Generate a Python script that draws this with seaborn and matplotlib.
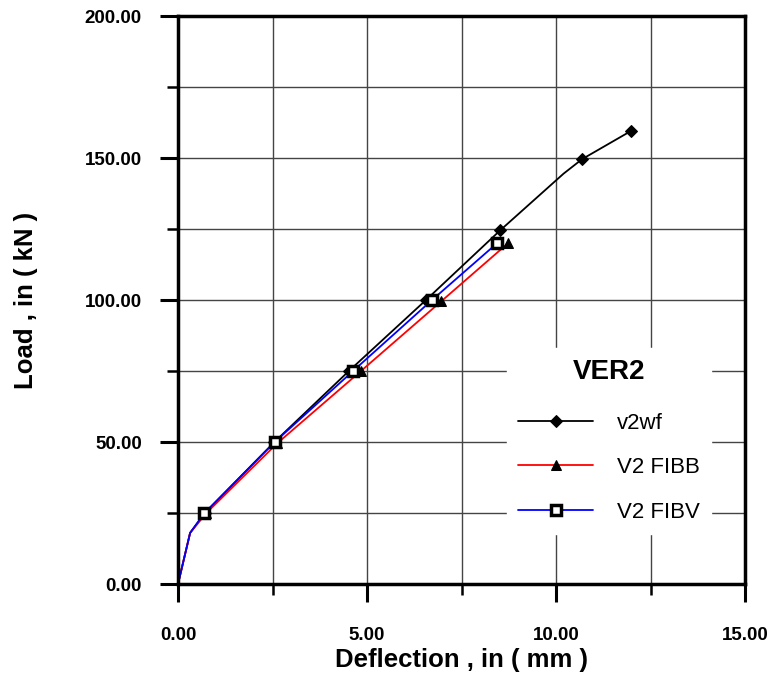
import numpy as np
import pandas as pd
import matplotlib
matplotlib.use("Agg")
import matplotlib.pyplot as plt
import seaborn as sns
from matplotlib.ticker import MultipleLocator, FormatStrFormatter

# Load-deflection data (first points are unmarked)
v2wf_defl = [0.0, 0.32, 0.71, 2.55, 4.52, 6.56, 8.52, 10.2, 10.69, 11.98]
v2wf_load = [0.0, 18.0, 25.0, 50.0, 75.0, 100.0, 124.5, 144.5, 149.6, 159.5]
v2wf_marks = [2, 3, 4, 5, 6, 8, 9]

fibb_defl = [0.0, 0.32, 0.75, 2.62, 4.84, 6.96, 8.73]
fibb_load = [0.0, 18.0, 25.0, 49.5, 75.0, 99.5, 120.0]
fibb_marks = [2, 3, 4, 5, 6]

fibv_defl = [0.0, 0.32, 0.70, 2.56, 4.63, 6.72, 8.44]
fibv_load = [0.0, 18.0, 25.0, 50.0, 75.0, 100.0, 120.0]
fibv_marks = [2, 3, 4, 5, 6]

sns.set_style("white")
plt.rcParams['font.family'] = ['Liberation Sans', 'DejaVu Sans']
plt.rcParams['text.color'] = 'black'
plt.rcParams['axes.labelcolor'] = 'black'
plt.rcParams['xtick.color'] = 'black'
plt.rcParams['ytick.color'] = 'black'

fig = plt.figure(figsize=(7.73, 6.79), dpi=100)
ax = fig.add_axes([0.2303, 0.1399, 0.7335, 0.8365])

sns.lineplot(x=v2wf_defl, y=v2wf_load, sort=False, color='black', lw=1.3,
             marker='D', markersize=6.5, markevery=v2wf_marks, mfc='black', mec='black',
             label='v2wf', ax=ax)
sns.lineplot(x=fibb_defl, y=fibb_load, sort=False, color='red', lw=1.3,
             marker='^', markersize=7.5, markevery=fibb_marks, mfc='black', mec='black',
             label='V2 FIBB', ax=ax)
sns.lineplot(x=fibv_defl, y=fibv_load, sort=False, color='blue', lw=1.3,
             marker='s', markersize=7, markevery=fibv_marks, mfc='white', mec='black', mew=2.5,
             label='V2 FIBV', ax=ax)

ax.set_xlim(0, 15)
ax.set_ylim(0, 200)
ax.xaxis.set_major_locator(MultipleLocator(5))
ax.xaxis.set_minor_locator(MultipleLocator(2.5))
ax.yaxis.set_major_locator(MultipleLocator(50))
ax.yaxis.set_minor_locator(MultipleLocator(25))
ax.xaxis.set_major_formatter(FormatStrFormatter('%.2f'))
ax.yaxis.set_major_formatter(FormatStrFormatter('%.2f'))
ax.grid(True, which='both', color='#444444', lw=1.0)
ax.set_axisbelow(True)

for s in ax.spines.values():
    s.set_linewidth(2.5)
    s.set_color('black')
ax.tick_params(which='major', direction='out', length=13, width=2.2, color='black',
               bottom=True, left=True, labelsize=13.5, labelcolor='black')
ax.tick_params(which='minor', direction='out', length=8, width=1.8, color='black',
               bottom=True, left=True)
for lab in ax.get_xticklabels() + ax.get_yticklabels():
    lab.set_fontweight('bold')
ax.tick_params(axis='x', which='major', pad=18)
ax.tick_params(axis='y', which='major', pad=13)

ax.set_xlabel("Deflection , in ( mm )", fontsize=18.5, fontweight='bold', labelpad=3)
ax.set_ylabel("Load , in ( kN )", fontsize=18.5, fontweight='bold', labelpad=34)

leg = ax.legend(loc='upper left', bbox_to_anchor=(0.56, 0.435), title='VER2',
                fontsize=16, handlelength=3.4, handletextpad=1.08, labelspacing=1.05,
                frameon=True, fancybox=False, framealpha=1, edgecolor='white',
                borderpad=0.5)
leg.get_title().set_fontsize(20)
leg.get_title().set_fontweight('bold')
leg._legend_box.sep = 20

fig.savefig("out.png", dpi=100)
